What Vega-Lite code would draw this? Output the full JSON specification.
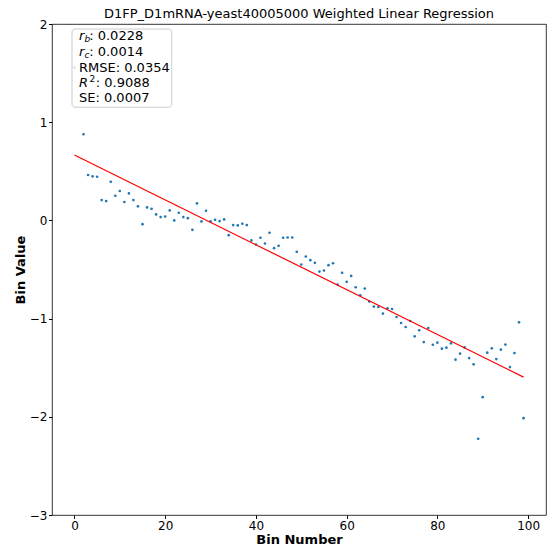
{
  "$schema": "https://vega.github.io/schema/vega-lite/v6.json",
  "width": 494,
  "height": 491,
  "autosize": "none",
  "padding": {"left": 52, "top": 24, "right": 2, "bottom": 33},
  "title": {"text": "D1FP_D1mRNA-yeast40005000 Weighted Linear Regression", "fontSize": 13, "fontWeight": "normal", "font": "DejaVu Sans", "color": "#000", "offset": -3, "frame": "group"},
  "config": {
    "font": "DejaVu Sans",
    "view": {"stroke": "#000", "strokeWidth": 0.8},
    "axis": {"grid": false, "domain": false, "tickColor": "#000", "tickSize": 3.5, "labelFontSize": 12, "labelColor": "#000", "titleFontSize": 13, "titleFontWeight": "bold", "titleColor": "#000", "labelFont": "DejaVu Sans", "titleFont": "DejaVu Sans"},
    "text": {"font": "DejaVu Sans", "color": "#000", "align": "left", "baseline": "middle", "fontSize": 13}
  },
  "layer": [
    {
      "data": {"values": [
        {"bin": 0, "value": 1.556}, {"bin": 2, "value": 0.877}, {"bin": 3, "value": 0.462}, {"bin": 4, "value": 0.449},
        {"bin": 5, "value": 0.445}, {"bin": 6, "value": 0.207}, {"bin": 7, "value": 0.197}, {"bin": 8, "value": 0.394},
        {"bin": 9, "value": 0.251}, {"bin": 10, "value": 0.299}, {"bin": 11, "value": 0.187}, {"bin": 12, "value": 0.275},
        {"bin": 13, "value": 0.207}, {"bin": 14, "value": 0.143}, {"bin": 15, "value": -0.038}, {"bin": 16, "value": 0.132},
        {"bin": 17, "value": 0.118}, {"bin": 18, "value": 0.061}, {"bin": 19, "value": 0.034}, {"bin": 20, "value": 0.040},
        {"bin": 21, "value": 0.102}, {"bin": 22, "value": 0.000}, {"bin": 23, "value": 0.078}, {"bin": 24, "value": 0.034},
        {"bin": 25, "value": 0.023}, {"bin": 26, "value": -0.096}, {"bin": 27, "value": 0.173}, {"bin": 28, "value": -0.010},
        {"bin": 29, "value": 0.098}, {"bin": 30, "value": -0.010}, {"bin": 31, "value": 0.007}, {"bin": 32, "value": -0.007},
        {"bin": 33, "value": 0.010}, {"bin": 34, "value": -0.150}, {"bin": 35, "value": -0.048}, {"bin": 36, "value": -0.051},
        {"bin": 37, "value": -0.034}, {"bin": 38, "value": -0.048}, {"bin": 39, "value": -0.204}, {"bin": 40, "value": -0.245},
        {"bin": 41, "value": -0.177}, {"bin": 42, "value": -0.235}, {"bin": 43, "value": -0.126}, {"bin": 44, "value": -0.283},
        {"bin": 45, "value": -0.259}, {"bin": 46, "value": -0.177}, {"bin": 47, "value": -0.174}, {"bin": 48, "value": -0.174},
        {"bin": 49, "value": -0.320}, {"bin": 50, "value": -0.449}, {"bin": 51, "value": -0.368}, {"bin": 52, "value": -0.405},
        {"bin": 53, "value": -0.432}, {"bin": 54, "value": -0.521}, {"bin": 55, "value": -0.510}, {"bin": 56, "value": -0.456},
        {"bin": 57, "value": -0.436}, {"bin": 58, "value": -0.653}, {"bin": 59, "value": -0.534}, {"bin": 60, "value": -0.626},
        {"bin": 61, "value": -0.565}, {"bin": 62, "value": -0.681}, {"bin": 63, "value": -0.762}, {"bin": 64, "value": -0.694},
        {"bin": 65, "value": -0.827}, {"bin": 66, "value": -0.878}, {"bin": 67, "value": -0.881}, {"bin": 68, "value": -0.949},
        {"bin": 69, "value": -0.895}, {"bin": 70, "value": -0.902}, {"bin": 71, "value": -0.984}, {"bin": 72, "value": -1.045},
        {"bin": 73, "value": -1.086}, {"bin": 74, "value": -1.024}, {"bin": 75, "value": -1.181}, {"bin": 76, "value": -1.119},
        {"bin": 77, "value": -1.239}, {"bin": 78, "value": -1.096}, {"bin": 79, "value": -1.266}, {"bin": 80, "value": -1.245},
        {"bin": 81, "value": -1.306}, {"bin": 82, "value": -1.296}, {"bin": 83, "value": -1.252}, {"bin": 84, "value": -1.418},
        {"bin": 85, "value": -1.357}, {"bin": 86, "value": -1.293}, {"bin": 87, "value": -1.402}, {"bin": 88, "value": -1.466},
        {"bin": 89, "value": -2.224}, {"bin": 90, "value": -1.800}, {"bin": 91, "value": -1.347}, {"bin": 92, "value": -1.303},
        {"bin": 93, "value": -1.412}, {"bin": 94, "value": -1.316}, {"bin": 95, "value": -1.265}, {"bin": 96, "value": -1.494},
        {"bin": 97, "value": -1.351}, {"bin": 98, "value": -1.038}, {"bin": 99, "value": -2.014}
      ]},
      "mark": {"type": "point", "filled": true, "size": 7, "color": "#1f77b4", "opacity": 1},
      "encoding": {
        "x": {"field": "bin", "type": "quantitative", "scale": {"domain": [-4.95, 103.95], "nice": false, "zero": false},
              "axis": {"values": [0, 20, 40, 60, 80, 100], "format": "d", "title": "Bin Number", "labelPadding": 2, "titlePadding": 2}},
        "y": {"field": "value", "type": "quantitative", "scale": {"domain": [-3, 2], "nice": false, "zero": false},
              "axis": {"values": [-3, -2, -1, 0, 1, 2], "format": "d", "title": "Bin Value", "labelExpr": "replace(datum.label, '-', '−')", "labelPadding": 1.5, "titlePadding": 2}}
      }
    },
    {
      "data": {"values": [{"bin": 0, "value": 0.666}, {"bin": 99, "value": -1.596}]},
      "mark": {"type": "line", "color": "#ff0000", "strokeWidth": 1.2},
      "encoding": {"x": {"field": "bin", "type": "quantitative"}, "y": {"field": "value", "type": "quantitative"}}
    },
    {
      "data": {"values": [{}]},
      "mark": {"type": "rect", "fill": "#ffffff", "fillOpacity": 0.8, "stroke": "#cccccc", "strokeWidth": 1, "cornerRadius": 3},
      "encoding": {"x": {"datum": -0.54}, "x2": {"datum": 21.44}, "y": {"datum": 1.949}, "y2": {"datum": 1.153}}
    },
    {"data": {"values": [{}]}, "mark": {"type": "text", "text": "r", "fontStyle": "italic"}, "encoding": {"x": {"datum": 1.0}, "y": {"datum": 1.873}}},
    {"data": {"values": [{}]}, "mark": {"type": "text", "text": "b", "fontStyle": "italic", "fontSize": 9, "dx": 5.5, "dy": 3}, "encoding": {"x": {"datum": 1.0}, "y": {"datum": 1.873}}},
    {"data": {"values": [{}]}, "mark": {"type": "text", "text": ": 0.0228", "dx": 10.2}, "encoding": {"x": {"datum": 1.0}, "y": {"datum": 1.873}}},
    {"data": {"values": [{}]}, "mark": {"type": "text", "text": "r", "fontStyle": "italic"}, "encoding": {"x": {"datum": 1.0}, "y": {"datum": 1.712}}},
    {"data": {"values": [{}]}, "mark": {"type": "text", "text": "c", "fontStyle": "italic", "fontSize": 9, "dx": 5.5, "dy": 3}, "encoding": {"x": {"datum": 1.0}, "y": {"datum": 1.712}}},
    {"data": {"values": [{}]}, "mark": {"type": "text", "text": ": 0.0014", "dx": 10.2}, "encoding": {"x": {"datum": 1.0}, "y": {"datum": 1.712}}},
    {"data": {"values": [{}]}, "mark": {"type": "text", "text": "RMSE: 0.0354"}, "encoding": {"x": {"datum": 1.0}, "y": {"datum": 1.556}}},
    {"data": {"values": [{}]}, "mark": {"type": "text", "text": "R", "fontStyle": "italic"}, "encoding": {"x": {"datum": 1.0}, "y": {"datum": 1.403}}},
    {"data": {"values": [{}]}, "mark": {"type": "text", "text": "2", "fontSize": 9, "dx": 10.5, "dy": -4}, "encoding": {"x": {"datum": 1.0}, "y": {"datum": 1.403}}},
    {"data": {"values": [{}]}, "mark": {"type": "text", "text": ": 0.9088", "dx": 16.8}, "encoding": {"x": {"datum": 1.0}, "y": {"datum": 1.403}}},
    {"data": {"values": [{}]}, "mark": {"type": "text", "text": "SE: 0.0007"}, "encoding": {"x": {"datum": 1.0}, "y": {"datum": 1.25}}}
  ]
}
